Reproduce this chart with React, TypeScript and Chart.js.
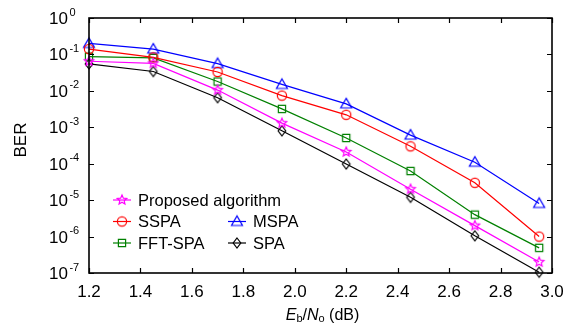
import React, { useEffect, useRef } from "react";
import { Chart, registerables } from "chart.js";

Chart.register(...registerables);

const snrDb = [1.2, 1.45, 1.7, 1.95, 2.2, 2.45, 2.7, 2.95];
const proposed = [0.065, 0.057, 0.0105, 0.0013, 2.1e-4, 2.0e-5, 2.0e-6, 2.0e-7];
const sspa = [0.14, 0.083, 0.033, 0.0074, 0.0022, 3.0e-4, 3.0e-5, 1.0e-6];
const mspa = [0.2, 0.14, 0.056, 0.015, 0.0044, 6.1e-4, 1.1e-4, 8.1e-6];
const fftSpa = [0.087, 0.08, 0.018, 0.0032, 5.1e-4, 6.3e-5, 4.0e-6, 4.9e-7];
const spa = [0.055, 0.034, 0.0065, 8.0e-4, 9.8e-5, 1.2e-5, 1.05e-6, 1.05e-7];

const xTicks = [1.2, 1.4, 1.6, 1.8, 2.0, 2.2, 2.4, 2.6, 2.8, 3.0];
const yExponents = [0, -1, -2, -3, -4, -5, -6, -7];

const FONT = "'Liberation Sans', Arial, sans-serif";

function makeMarker(kind: string, color: string): HTMLCanvasElement {
  const c = document.createElement("canvas");
  c.width = 16;
  c.height = 16;
  const ctx = c.getContext("2d")!;
  ctx.strokeStyle = color;
  ctx.lineWidth = 1.2;
  ctx.beginPath();
  const cx = 8, cy = 8;
  if (kind === "triangle") {
    ctx.moveTo(cx - 5.5, cy + 4);
    ctx.lineTo(cx + 5.5, cy + 4);
    ctx.lineTo(cx, cy - 5.5);
    ctx.closePath();
  } else if (kind === "circle") {
    ctx.arc(cx, cy, 4.6, 0, Math.PI * 2);
  } else if (kind === "square") {
    ctx.rect(cx - 3.6, cy - 3.6, 7.2, 7.2);
  } else if (kind === "diamond") {
    ctx.moveTo(cx, cy - 5);
    ctx.lineTo(cx + 3.8, cy);
    ctx.lineTo(cx, cy + 5);
    ctx.lineTo(cx - 3.8, cy);
    ctx.closePath();
  } else if (kind === "star") {
    for (let i = 0; i < 10; i++) {
      const r = i % 2 === 0 ? 5 : 2.3;
      const a = -Math.PI / 2 + (i * Math.PI) / 5;
      const px = cx + r * Math.cos(a);
      const py = cy + r * Math.sin(a);
      if (i === 0) ctx.moveTo(px, py);
      else ctx.lineTo(px, py);
    }
    ctx.closePath();
  }
  ctx.stroke();
  return c;
}

export default function App() {
  const ref = useRef<HTMLCanvasElement>(null);

  useEffect(() => {
    document.body.style.margin = "0";
    const canvas = ref.current!;
    const series = [
      { label: "Proposed algorithm", data: proposed, color: "#ff00ff", kind: "star" },
      { label: "SSPA", data: sspa, color: "#ff0000", kind: "circle" },
      { label: "MSPA", data: mspa, color: "#0000ff", kind: "triangle" },
      { label: "FFT-SPA", data: fftSpa, color: "#008000", kind: "square" },
      { label: "SPA", data: spa, color: "#000000", kind: "diamond" },
    ];
    const markers = series.map((s) => makeMarker(s.kind, s.color));

    const datasets = series.map((s, i) => ({
      label: s.label,
      data: snrDb.map((x, j) => ({ x, y: s.data[j] })),
      borderColor: s.color,
      backgroundColor: s.color,
      borderWidth: 1.2,
      pointStyle: markers[i] as any,
      pointRadius: 5,
      clip: false as any,
    }));

    const legendPos = [
      { row: 0, col: 0 },
      { row: 1, col: 0 },
      { row: 1, col: 1 },
      { row: 2, col: 0 },
      { row: 2, col: 1 },
    ];

    const deco = {
      id: "deco",
      afterDraw(chart: any) {
        const ctx = chart.ctx as CanvasRenderingContext2D;
        const a = chart.chartArea;
        const xs = chart.scales.x;
        const ys = chart.scales.y;
        ctx.save();
        // frame
        ctx.strokeStyle = "#000";
        ctx.lineWidth = 1.6;
        ctx.strokeRect(a.left, a.top, a.right - a.left, a.bottom - a.top);
        ctx.lineWidth = 1.2;
        const tl = 5;
        ctx.beginPath();
        xTicks.forEach((v) => {
          const px = Math.round(xs.getPixelForValue(v)) + 0.5;
          ctx.moveTo(px, a.bottom);
          ctx.lineTo(px, a.bottom - tl);
          ctx.moveTo(px, a.top);
          ctx.lineTo(px, a.top + tl);
        });
        yExponents.forEach((e) => {
          const py = Math.round(ys.getPixelForValue(Math.pow(10, e))) + 0.5;
          ctx.moveTo(a.left, py);
          ctx.lineTo(a.left + tl, py);
          ctx.moveTo(a.right, py);
          ctx.lineTo(a.right - tl, py);
        });
        ctx.stroke();

        // x tick labels
        ctx.fillStyle = "#000";
        ctx.font = `17px ${FONT}`;
        ctx.textAlign = "center";
        ctx.textBaseline = "alphabetic";
        xTicks.forEach((v) => {
          ctx.fillText(v.toFixed(1), xs.getPixelForValue(v), a.bottom + 23.5);
        });

        // y tick labels
        yExponents.forEach((e) => {
          const py = ys.getPixelForValue(Math.pow(10, e));
          ctx.textAlign = "left";
          ctx.font = `17px ${FONT}`;
          const lx = a.left - 40;
          ctx.fillText("10", lx, py + 6);
          const w = ctx.measureText("10").width;
          ctx.font = `11px ${FONT}`;
          ctx.fillText(e === 0 ? "0" : "-" + Math.abs(e), lx + w + 1.5, py - 2.5);
        });

        // y title
        ctx.save();
        ctx.translate(21, 140);
        ctx.rotate(-Math.PI / 2);
        ctx.textAlign = "center";
        ctx.textBaseline = "middle";
        ctx.font = `17px ${FONT}`;
        ctx.fillText("BER", 0, 0);
        ctx.restore();

        // x title: Eb/No (dB)
        const parts = [
          { t: "E", f: `italic 16px ${FONT}`, dy: 0 },
          { t: "b", f: `11px ${FONT}`, dy: 2 },
          { t: "/", f: `16px ${FONT}`, dy: 0 },
          { t: "N", f: `italic 16px ${FONT}`, dy: 0 },
          { t: "o", f: `11px ${FONT}`, dy: 2 },
          { t: " (dB)", f: `16px ${FONT}`, dy: 0 },
        ];
        let total = 0;
        parts.forEach((p) => {
          ctx.font = p.f;
          total += ctx.measureText(p.t).width;
        });
        let tx = (a.left + a.right) / 2 - total / 2 + 2;
        const ty = a.bottom + 47;
        ctx.textAlign = "left";
        parts.forEach((p) => {
          ctx.font = p.f;
          ctx.fillText(p.t, tx, ty + p.dy);
          tx += ctx.measureText(p.t).width;
        });

        // legend
        ctx.font = `16.5px ${FONT}`;
        ctx.textBaseline = "middle";
        series.forEach((s, i) => {
          const lp = legendPos[i];
          const x0 = a.left + 24 + lp.col * 115;
          const y0 = a.top + 182 + lp.row * 21.5;
          ctx.strokeStyle = s.color;
          ctx.lineWidth = 1.2;
          ctx.beginPath();
          ctx.moveTo(x0, y0);
          ctx.lineTo(x0 + 18, y0);
          ctx.stroke();
          ctx.drawImage(markers[i], x0 + 9 - 8, y0 - 8);
          ctx.fillStyle = "#000";
          ctx.fillText(s.label, x0 + 25, y0 + 1);
        });
        ctx.restore();
      },
    };

    const chart = new Chart(canvas, {
      type: "line",
      data: { datasets },
      options: {
        animation: false,
        responsive: false,
        maintainAspectRatio: false,
        layout: { padding: { left: 89, right: 22, top: 18, bottom: 60 } },
        plugins: { legend: { display: false }, tooltip: { enabled: false } },
        scales: {
          x: { type: "linear", min: 1.2, max: 3.0, display: false },
          y: { type: "logarithmic", min: 1e-7, max: 1, display: false },
        },
      },
      plugins: [deco],
    });
    return () => chart.destroy();
  }, []);

  return <canvas ref={ref} width={574} height={333} style={{ display: "block" }} />;
}
